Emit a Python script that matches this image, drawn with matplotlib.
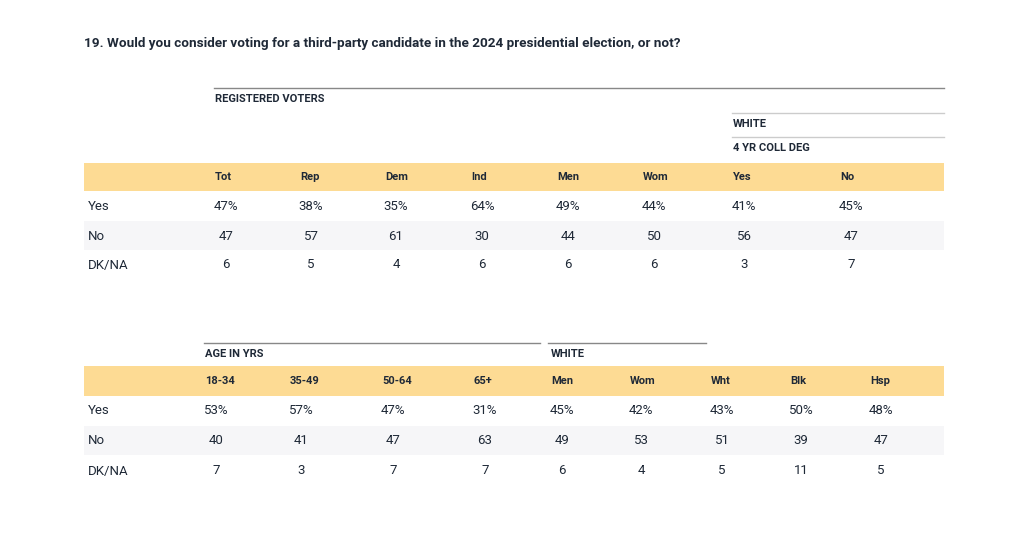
import matplotlib
matplotlib.use("Agg")
import matplotlib.pyplot as plt
from matplotlib import font_manager

names = {f.name for f in font_manager.fontManager.ttflist}
FONT = "Liberation Sans Narrow" if "Liberation Sans Narrow" in names else "Roboto"
plt.rcParams['font.family'] = [FONT, 'DejaVu Sans']

TITLE = "19. Would you consider voting for a third-party candidate in the 2024 presidential election, or not?"
row_labels = ["Yes", "No", "DK/NA"]

# Table 1
t1_cols = ["Tot", "Rep", "Dem", "Ind", "Men", "Wom", "Yes", "No"]
t1_yes = [47, 38, 35, 64, 49, 44, 41, 45]
t1_no = [47, 57, 61, 30, 44, 50, 56, 47]
t1_dk = [6, 5, 4, 6, 6, 6, 3, 7]

# Table 2
t2_cols = ["18-34", "35-49", "50-64", "65+", "Men", "Wom", "Wht", "Blk", "Hsp"]
t2_yes = [53, 57, 47, 31, 45, 42, 43, 50, 48]
t2_no = [40, 41, 47, 63, 49, 53, 51, 39, 47]
t2_dk = [7, 3, 7, 7, 6, 4, 5, 11, 5]

TXT = "#1f2937"
YEL = "#fddb94"
GRY = "#f6f6f8"

fig = plt.figure(figsize=(10.24, 5.34), dpi=100)
ax = fig.add_axes([0, 0, 1, 1])
ax.set_xlim(0, 1024)
ax.set_ylim(534, 0)
ax.axis("off")

ax.text(84, 44, TITLE, fontsize=9.7, fontweight="bold", color=TXT, va="center", ha="left")

def table(col_x, yband, rows_y, gray_band, vals):
    ax.fill_between([84, 944], yband[0], yband[1], color=YEL, lw=0)
    ax.fill_between([84, 944], gray_band[0], gray_band[1], color=GRY, lw=0)
    for ry, lab in zip(rows_y, row_labels):
        ax.text(88, ry, lab, fontsize=9.5, color=TXT, va="center", ha="left")
    for i, (yv, nv, dv) in enumerate(zip(*vals)):
        cx = col_x[i] + 11
        ax.text(cx, rows_y[0], f"{yv}%", fontsize=9.5, color=TXT, va="center", ha="center")
        ax.text(cx, rows_y[1], f"{nv}", fontsize=9.5, color=TXT, va="center", ha="center")
        ax.text(cx, rows_y[2], f"{dv}", fontsize=9.5, color=TXT, va="center", ha="center")

# ---- Table 1
c1 = [215, 300, 385, 471, 557, 643, 733, 840]
ax.plot([214, 944], [88, 88], color="#888888", lw=1.0)
ax.text(215, 99, "REGISTERED VOTERS", fontsize=8, fontweight="bold", color=TXT, va="center")
ax.plot([732, 944], [113, 113], color="#cccccc", lw=1.0)
ax.text(733, 124, "WHITE", fontsize=8, fontweight="bold", color=TXT, va="center")
ax.plot([732, 944], [137, 137], color="#cccccc", lw=1.0)
ax.text(733, 148, "4 YR COLL DEG", fontsize=8, fontweight="bold", color=TXT, va="center")
table(c1, (163, 191), [206, 236, 265], (221, 250), (t1_yes, t1_no, t1_dk))
for x, lab in zip(c1, t1_cols):
    ax.text(x, 177, lab, fontsize=8, fontweight="bold", color=TXT, va="center", ha="left")

# ---- Table 2
c2 = [205, 290, 382, 474, 551, 630, 711, 790, 870]
ax.plot([204, 540], [343, 343], color="#888888", lw=1.0)
ax.plot([548, 706], [343, 343], color="#888888", lw=1.0)
ax.text(205, 354, "AGE IN YRS", fontsize=8, fontweight="bold", color=TXT, va="center")
ax.text(551, 354, "WHITE", fontsize=8, fontweight="bold", color=TXT, va="center")
table(c2, (366, 396), [411, 441, 471], (426, 455), (t2_yes, t2_no, t2_dk))
for x, lab in zip(c2, t2_cols):
    ax.text(x, 381, lab, fontsize=8, fontweight="bold", color=TXT, va="center", ha="left")

fig.savefig("out.png", dpi=100, facecolor="white")
